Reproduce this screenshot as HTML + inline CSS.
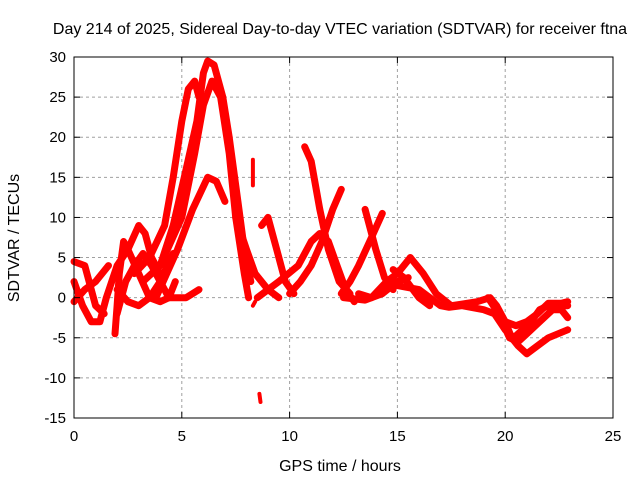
<!DOCTYPE html>
<html><head><meta charset="utf-8"><style>
body{margin:0;background:#fff}
svg text{font-family:"Liberation Sans",sans-serif;font-size:15px;fill:#000}
svg text.big{font-size:16px}
</style></head><body>
<svg id="c" width="640" height="480" xmlns="http://www.w3.org/2000/svg">
<rect width="640" height="480" fill="#fff"/>
<text class="big" x="340" y="34" text-anchor="middle">Day 214 of 2025, Sidereal Day-to-day VTEC variation (SDTVAR) for receiver ftna</text>
<text class="big" x="340" y="471" text-anchor="middle">GPS time / hours</text>
<text class="big" transform="translate(19,238) rotate(-90)" text-anchor="middle">SDTVAR / TECUs</text>
<g id="grid"></g><g id="marks"></g><g id="axes"></g>
</svg>
<script>
const xTicks=[0,5,10,15,20,25];
const yTicks=[-15,-10,-5,0,5,10,15,20,25,30];
const arcA1=[[2.8,3],[3.5,5],[4.2,9],[4.6,15],[5.0,22],[5.3,26],[5.6,27],[5.8,25]];
const arcA2=[[4,4],[4.6,9],[5.2,16],[5.7,22],[6.0,28],[6.2,29.5],[6.5,29],[6.9,25],[7.2,20],[7.6,12],[7.9,6],[8.2,2]];
const arcA3=[[3.2,2],[4,4],[5,10],[5.6,18],[6.0,24],[6.4,27],[6.8,25],[7.2,18],[7.5,10],[7.9,3],[8.1,0]];
const arcA4=[[3.8,0],[4.8,6],[5.5,11],[6.2,15],[6.6,14.5],[7.0,12]];
const arcA5=[[0,2],[0.4,-1],[0.8,-3],[1.2,-3],[1.5,0],[2,4],[2.5,6],[3,9],[3.3,8],[3.6,5],[4,3]];
const arcA6=[[0,-0.5],[0.5,1],[1,2],[1.6,4]];
const arcA7=[[0,4.5],[0.5,4],[1,-1],[1.4,-2]];
const arcA8=[[1.9,-4.5],[2.0,-1],[2.1,3],[2.3,7],[2.5,6],[3,3],[3.5,0],[4,-0.5],[4.4,0],[4.7,2]];
const arcA9=[[2,1],[2.5,-0.5],[3,-1],[3.5,0],[4,2],[4.5,5],[4.6,5.5]];
const arcA10=[[2,-2],[2.4,2],[2.8,4],[3.2,5.5],[3.6,4],[4,2],[4.4,0],[5.2,0],[5.8,1]];
const arcB1=[[7.5,10],[8.0,6],[8.4,3],[9,1],[9.5,0]];
const arcB2=[[8.3,-1],[8.4,-0.5]];
const arcB3=[[8.7,9],[9.0,10],[9.4,6],[9.8,2],[10.2,0.5]];
const arcB4=[[8.6,-12],[8.65,-13]];
const arcB5=[[8.3,17.2],[8.3,15.5],[8.3,14]];
const arcB6=[[10.7,18.8],[11.0,17],[11.4,11],[11.8,6],[12.3,2],[12.8,0.5]];
const arcB7=[[8.5,0],[9.5,2],[10.4,4],[11,7],[11.4,8],[11.8,7],[12.2,4],[12.6,1],[13,-0.5]];
const arcB8=[[12.4,13.5],[12.0,11],[11.5,7],[11,4],[10.5,2],[10.0,0.5]];
const arcB10=[[13.5,11],[14,6],[14.4,2.5],[14.8,1]];
const arcB11=[[14.3,10.5],[13.8,7.5],[13.2,4],[12.8,2],[12.4,0.5]];
const arcB12=[[12.5,0],[13.5,-0.3],[14.3,0.5],[15,2],[15.5,2.5]];
const arcB13=[[13.2,0.5],[13.8,0],[14.5,2],[15,3],[15.6,5]];
const arcB14=[[15.6,5],[16.2,3],[16.8,0.5],[17.5,-1],[18,-0.8],[18.7,-0.5],[19.3,0],[19.6,-1],[20,-3],[20.3,-5],[20.6,-6],[21,-7],[21.5,-6],[22,-5],[22.9,-4]];
const arcB15=[[15,1.5],[16,1],[17,-1],[17.4,-1.2],[18,-1],[19,-1.5],[19.5,-2],[20,-4],[20.4,-5],[20.8,-4],[21.2,-3],[21.6,-1.5],[22,-1],[22.9,-1]];
const arcB16=[[19.2,0],[19.7,-2],[20.2,-5],[20.6,-5.5],[21,-4.5],[21.4,-3.5],[21.8,-2.5],[22.2,-1.5],[22.6,-1.5],[22.9,-2.5]];
const arcB17=[[20,-3],[20.5,-3.5],[21,-3],[21.5,-2],[22,-0.7],[22.6,-0.7],[22.9,-0.5]];
const arcB18=[[14.8,3.5],[15.3,2.5],[16,0],[16.5,-1]];
const arcs=[arcA1,arcA2,arcA3,arcA4,arcA5,arcA6,arcA7,arcA8,arcA9,arcA10,arcB1,arcB2,arcB3,arcB4,arcB5,arcB6,arcB7,arcB8,arcB10,arcB11,arcB12,arcB13,arcB14,arcB15,arcB16,arcB17,arcB18];

const X0=74,X1=613,Y0=418,Y1=57,XMIN=0,XMAX=25,YMIN=-15,YMAX=30;
const sx=h=>X0+(h-XMIN)/(XMAX-XMIN)*(X1-X0);
const sy=v=>Y0-(v-YMIN)/(YMAX-YMIN)*(Y0-Y1);
const NS="http://www.w3.org/2000/svg";
function mk(t,a,p){const e=document.createElementNS(NS,t);for(const k in a)e.setAttribute(k,a[k]);p.appendChild(e);return e;}
const grid=document.getElementById('grid'),axes=document.getElementById('axes'),marks=document.getElementById('marks');
xTicks.forEach(t=>{
  const x=sx(t);
  if(t>XMIN&&t<XMAX){const g=mk('line',{x1:x,x2:x,y1:Y1,y2:Y0,stroke:'#a0a0a0','stroke-dasharray':'3,3'},grid);
  
  }
  mk('line',{x1:x,x2:x,y1:Y0,y2:Y0-6,stroke:'#000'},axes);
  mk('line',{x1:x,x2:x,y1:Y1,y2:Y1+6,stroke:'#000'},axes);
  const tx=mk('text',{x:x,y:Y0+23,'text-anchor':'middle'},axes);tx.textContent=t;
  
  
});
yTicks.forEach(t=>{
  const y=sy(t);
  if(t>YMIN&&t<YMAX){const g=mk('line',{x1:X0,x2:X1,y1:y,y2:y,stroke:'#a0a0a0','stroke-dasharray':'3,3'},grid);
  
  }
  mk('line',{x1:X0,x2:X0+6,y1:y,y2:y,stroke:'#000'},axes);
  mk('line',{x1:X1,x2:X1-6,y1:y,y2:y,stroke:'#000'},axes);
  const tx=mk('text',{x:X0-8,y:y+5,'text-anchor':'end'},axes);tx.textContent=t;
  
  
});
const fr=mk('rect',{x:X0,y:Y1,width:X1-X0,height:Y0-Y1,fill:'none',stroke:'#000'},axes);


arcs.forEach(a=>{
  const pts=a.map(p=>sx(p[0]).toFixed(1)+','+sy(p[1]).toFixed(1)).join(' ');
  const pl=mk('polyline',{points:pts,fill:'none',stroke:'#ff0000','stroke-width':a.length<4?4:7,'stroke-linejoin':'round','stroke-linecap':'round'},marks);
  
  
});
</script>
</body></html>
